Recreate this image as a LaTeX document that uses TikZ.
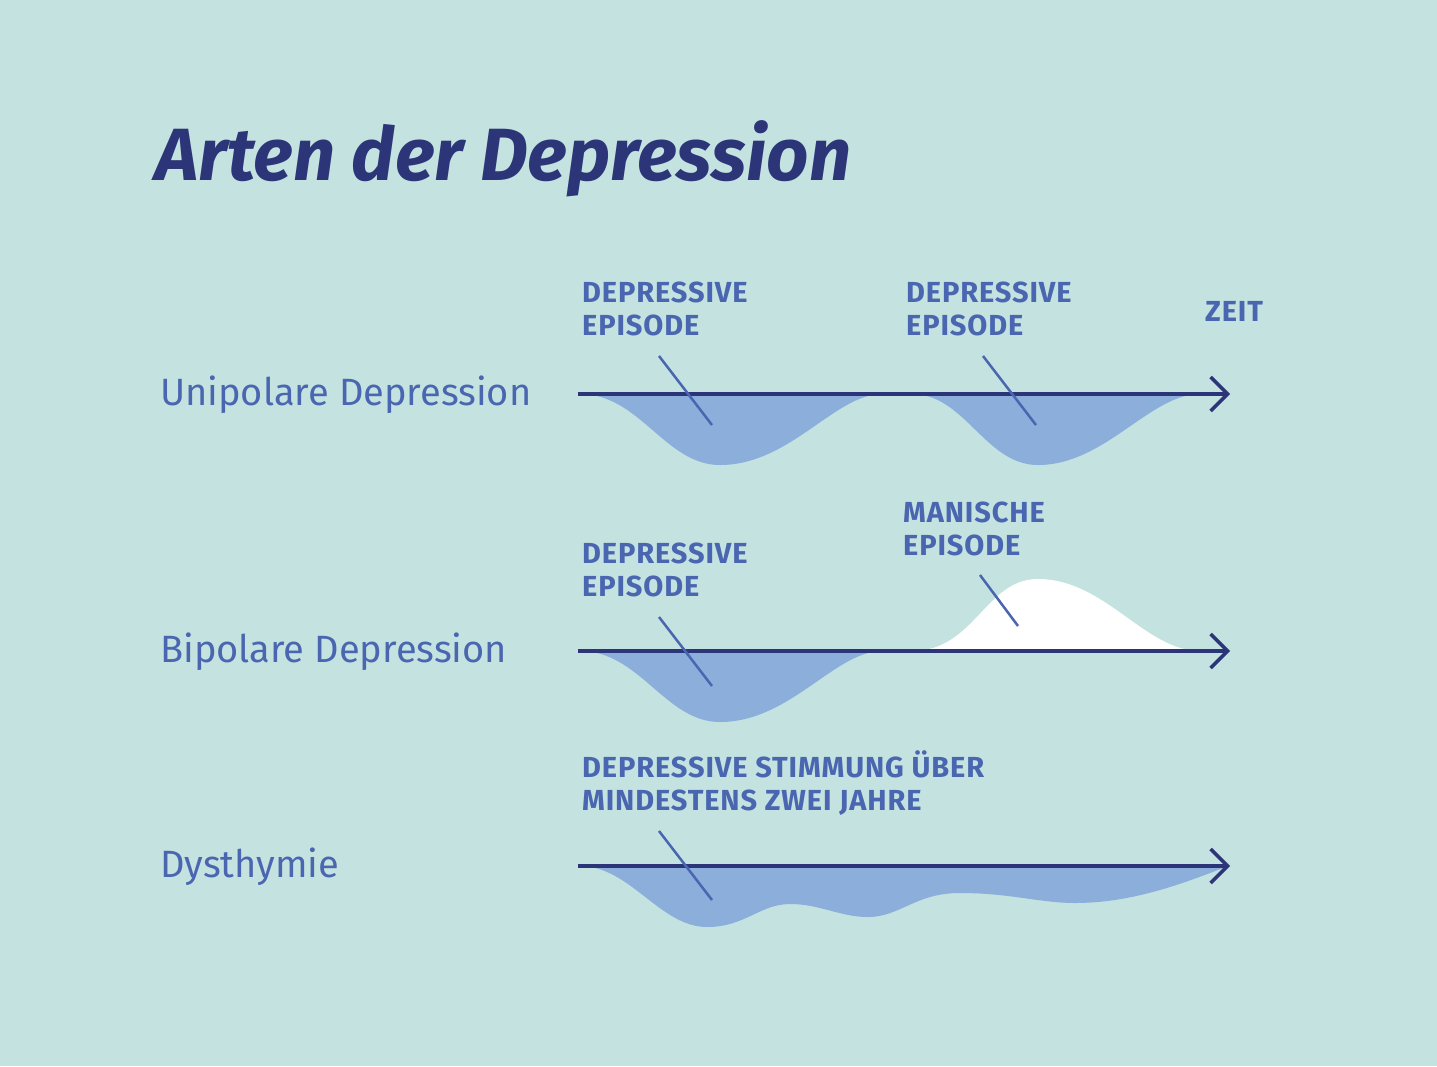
\documentclass[tikz,border=0pt]{standalone}
\usepackage{fontspec}
\setmainfont{Fira Sans}
\usetikzlibrary{arrows.meta}
\definecolor{bgmint}{RGB}{195,226,224}
\definecolor{navyblue}{RGB}{43,53,119}
\definecolor{labelblue}{RGB}{74,102,176}
\definecolor{moodblue}{RGB}{139,174,219}

\begin{document}
\begin{tikzpicture}[x=1pt,y=-1pt,
    rowlabel/.style={anchor=base west,inner sep=0pt,text=labelblue,font=\fontsize{38}{42}\selectfont},
    eplabel/.style={anchor=base west,inner sep=0pt,text=labelblue,align=left,font=\fontsize{29}{33}\selectfont\bfseries\addfontfeature{LetterSpace=3}},
    timeaxis/.style={-{Straight Barb[length=17pt,width=34pt]},line width=3.5pt,navyblue},
    pointer/.style={line width=2.5pt,labelblue},
    low/.style={fill=moodblue},
    high/.style={fill=white}
]
\fill[bgmint] (0,0) rectangle (1437,1066);
\node[anchor=base west,inner sep=0pt,text=navyblue,font=\fontsize{74}{80}\selectfont\bfseries\itshape] (title) at (155,180) {Arten der Depression};

% Unipolare Depression
\node[rowlabel] (uni) at (160,405) {Unipolare Depression};
\fill[low] (580,394) .. controls (640,394) and (665,465) .. (720,465) .. controls (790,465) and (835,394) .. (882,394) -- cycle;
\fill[low] (912,394) .. controls (965,394) and (985,465) .. (1038,465) .. controls (1105,465) and (1150,394) .. (1200,394) -- cycle;
\coordinate (uniA) at (578,394);
\coordinate (uniB) at (1230,394);
\draw[timeaxis] (uniA) -- (uniB);
\node[eplabel] (uniep1) at (582,335) {DEPRESSIVE\\EPISODE};
\node[eplabel] (uniep2) at (906,335) {DEPRESSIVE\\EPISODE};
\node[eplabel] (zeit) at (1205,321) {ZEIT};
\coordinate (p1a) at (659,356); \coordinate (p1b) at (712,425);
\coordinate (p2a) at (983,356); \coordinate (p2b) at (1036,425);
\draw[pointer] (p1a) -- (p1b);
\draw[pointer] (p2a) -- (p2b);

% Bipolare Depression
\node[rowlabel] (bi) at (160,662) {Bipolare Depression};
\fill[low] (580,651) .. controls (640,651) and (665,722) .. (720,722) .. controls (790,722) and (835,651) .. (882,651) -- cycle;
\fill[high] (912,651) .. controls (975,651) and (985,579) .. (1038,579) .. controls (1105,579) and (1145,651) .. (1200,651) -- cycle;
\coordinate (biA) at (578,651);
\coordinate (biB) at (1230,651);
\draw[timeaxis] (biA) -- (biB);
\node[eplabel] (biep) at (582,596) {DEPRESSIVE\\EPISODE};
\node[eplabel] (manep) at (903,555) {MANISCHE\\EPISODE};
\coordinate (p3a) at (659,617); \coordinate (p3b) at (712,686);
\coordinate (p4a) at (980,575); \coordinate (p4b) at (1018,626);
\draw[pointer] (p3a) -- (p3b);
\draw[pointer] (p4a) -- (p4b);

% Dysthymie
\node[rowlabel] (dys) at (160,877) {Dysthymie};
\fill[low] (580,866) .. controls (630,866) and (660,927) .. (707,927) .. controls (745,927) and (760,904) .. (790,904)
    .. controls (820,904) and (840,917) .. (868,917) .. controls (900,917) and (915,893) .. (960,893)
    .. controls (1010,893) and (1040,903) .. (1075,903) .. controls (1130,903) and (1180,885) .. (1228,866) -- cycle;
\coordinate (dysA) at (578,866);
\coordinate (dysB) at (1230,866);
\draw[timeaxis] (dysA) -- (dysB);
\node[eplabel] (dysep) at (582,810) {DEPRESSIVE STIMMUNG ÜBER\\MINDESTENS ZWEI JAHRE};
\coordinate (p5a) at (659,831); \coordinate (p5b) at (712,900);
\draw[pointer] (p5a) -- (p5b);
\end{tikzpicture}
\end{document}
